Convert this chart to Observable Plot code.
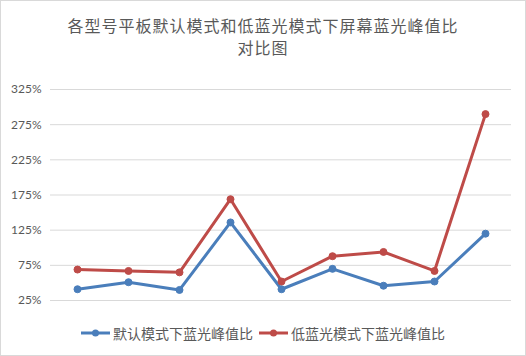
<!DOCTYPE html>
<html><head><meta charset="utf-8">
<script src="https://cdn.jsdelivr.net/npm/d3@7"></script>
<script src="https://cdn.jsdelivr.net/npm/@observablehq/plot@0.6"></script>
<style>
body{margin:0;background:#fff;}
#chart{position:relative;width:524px;height:354px;border:1px solid #d9d9d9;background:#fff;overflow:hidden;font-family:"Noto Sans CJK SC",sans-serif;color:#595959;}
#title{height:59px;box-sizing:border-box;padding-top:13px;text-align:center;font-size:16px;line-height:22px;letter-spacing:1px;}
#legend{height:45px;display:flex;align-items:center;justify-content:center;font-size:14px;gap:6px;}
.item{display:flex;align-items:center;gap:3px;}
</style></head>
<body>
<div id="chart">
<div id="title">各型号平板默认模式和低蓝光模式下屏幕蓝光峰值比<br>对比图</div>
<div id="plot"></div>
<div id="legend"></div>
</div>
<script>
const categories = ["型号1","型号2","型号3","型号4","型号5","型号6","型号7","型号8","型号9"];
const seriesNames = ["默认模式下蓝光峰值比","低蓝光模式下蓝光峰值比"];
const defaultValues = [41, 51, 40, 136, 41, 70, 46, 52, 120];
const lowBlueValues = [69, 67, 65, 169, 52, 88, 94, 67, 290];
const yTicks = [25, 75, 125, 175, 225, 275, 325];
const colors = ["#4a7ebb", "#be4b48"];

const data = [];
categories.forEach((c, i) => {
  data.push({cat: c, series: seriesNames[0], value: defaultValues[i]});
  data.push({cat: c, series: seriesNames[1], value: lowBlueValues[i]});
});

const plot = Plot.plot({
  width: 524,
  height: 250,
  marginLeft: 49,
  marginRight: 14,
  marginTop: 29,
  marginBottom: 10,
  style: {fontFamily: "Lato, sans-serif", fontSize: "12px", color: "#595959", background: "transparent"},
  x: {type: "point", domain: categories, padding: 0.5, axis: null},
  y: {domain: [25, 325], ticks: yTicks, tickFormat: d => d + "%", tickSize: 0, tickPadding: 9, label: null},
  color: {domain: seriesNames, range: colors},
  marks: [
    Plot.gridY(yTicks, {stroke: "#d9d9d9", strokeOpacity: 1, strokeWidth: 1}),
    Plot.axisY({ticks: yTicks, tickFormat: d => d + "%", tickSize: 0, tickPadding: 9, label: null, fill: "#595959"}),
    Plot.line(data, {x: "cat", y: "value", z: "series", stroke: "series", strokeWidth: 3, curve: "linear"}),
    Plot.dot(data, {x: "cat", y: "value", fill: "series", r: 3.5, stroke: "series", strokeWidth: 1})
  ]
});
document.getElementById("plot").appendChild(plot);

const legend = document.getElementById("legend");
seriesNames.forEach((name, i) => {
  const item = document.createElement("div");
  item.className = "item";
  item.innerHTML = `<svg width="29" height="10"><line x1="0" y1="5" x2="29" y2="5" stroke="${colors[i]}" stroke-width="3"/><circle cx="14.5" cy="5" r="3.5" fill="${colors[i]}"/></svg><span>${name}</span>`;
  legend.appendChild(item);
});
</script>
</body></html>
